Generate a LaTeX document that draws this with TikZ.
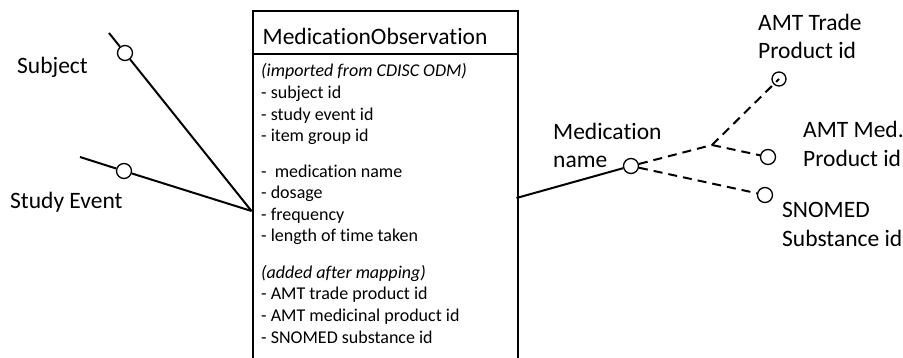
\documentclass[tikz,border=0pt]{standalone}
\usepackage{fontspec}
\setmainfont{Carlito}[Ligatures=NoCommon]
\begin{document}
\begin{tikzpicture}[x=1pt,y=-1pt,
  lbl/.style={font=\fontsize{23.5}{28.7}\selectfont, anchor=base west, inner sep=0pt, align=left},
  item/.style={font=\fontsize{18}{21.7}\selectfont, anchor=base west, inner sep=0pt},
  port/.style={circle, draw, line width=1.3pt, fill=white, minimum size=15pt, inner sep=0pt},
  hollowport/.style={circle, draw, line width=1.3pt, minimum size=14pt, inner sep=0pt},
  link/.style={line width=2pt},
  optlink/.style={line width=2pt, dash pattern=on 9pt off 6pt}]

% canvas
\path[use as bounding box, clip] (0,0) rectangle (903,358);

% entity box (runs past the lower edge)
\node[draw, line width=2pt, minimum width=265pt, minimum height=420pt,
      anchor=north west, inner sep=0pt] (box) at (251.5,10) {};
\draw[line width=2pt] (box.west |- 0,54) -- (box.east |- 0,54);
\node[lbl] (title) at (262.5,44.5) {MedicationObservation};

% attribute list
\node[item] (a1) at (261,77) {\itshape (imported from CDISC ODM)};
\node[item] (a2) at (261,99) {- subject id};
\node[item] (a3) at (261,120.5) {- study event id};
\node[item] (a4) at (261,142) {- item group id};
\node[item] (a5) at (261,177.5) {-\ \ medication name};
\node[item] (a6) at (261,199) {- dosage};
\node[item] (a7) at (261,220.5) {- frequency};
\node[item] (a8) at (261,242) {- length of time taken};
\node[item] (a9) at (261,278.5) {\itshape (added after mapping)};
\node[item] (a10) at (261,300) {- AMT trade product id};
\node[item] (a11) at (261,321.5) {- AMT medicinal product id};
\node[item] (a12) at (261,343) {- SNOMED substance id};

% left-hand relations
\coordinate (join) at (251.5,211);
\coordinate (subjend) at (109,33);
\coordinate (eventend) at (80,157);
\node[port] (subjc) at (125,53) {};
\node[port] (eventc) at (124,171) {};
\draw[link] (subjend) -- (subjc) -- (join);
\draw[link] (eventend) -- (eventc) -- (join);
\node[lbl] (subj) at (17,74) {Subject};
\node[lbl] (event) at (10,209) {Study Event};

% right-hand relations (multi-line labels are placed by their last baseline)
\coordinate (rjoin) at (516.5,198);
\node[port] (medc) at (631,166) {};
\draw[link] (rjoin) -- (medc);
\node[lbl] (medname) at (553,168) {Medication\\name};

\coordinate (branch) at (712,145);
\node[hollowport] (tradec) at (779,79) {};
\node[port] (medprodc) at (768,157) {};
\node[port] (snomedc) at (765,195) {};
\draw[optlink] (medc) -- (branch);
\draw[optlink] (branch) -- (tradec.center);
\draw[optlink] (branch) -- (medprodc);
\draw[optlink] (medc) -- (snomedc);

\node[lbl] (trade) at (758,59) {AMT Trade\\Product id};
\node[lbl] (medprod) at (803,166.5) {AMT Med.\\Product id};
\node[lbl] (snomed) at (782,246.5) {SNOMED\\Substance id};
\end{tikzpicture}
\end{document}
